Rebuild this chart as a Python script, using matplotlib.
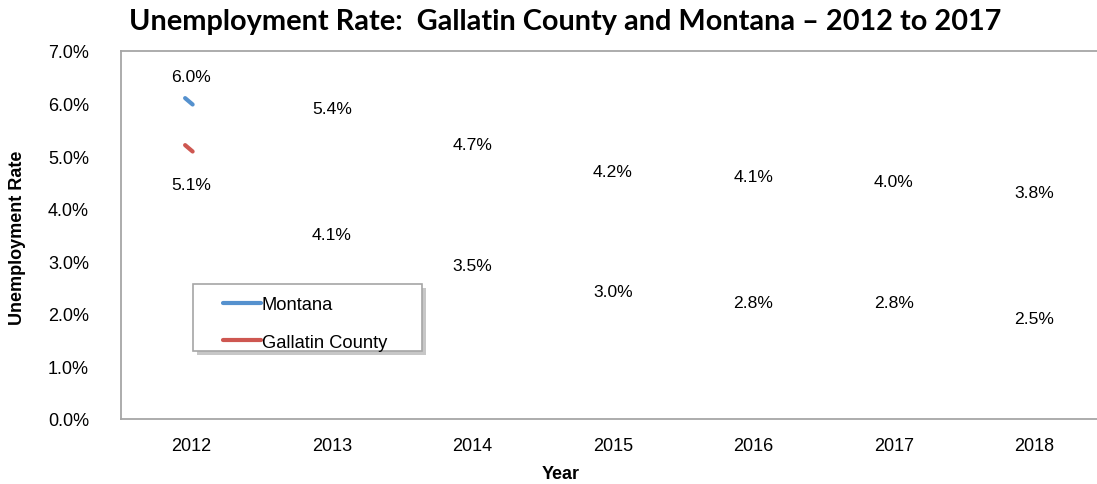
import matplotlib
matplotlib.use("Agg")
import matplotlib.pyplot as plt
import matplotlib.patheffects as pe
from matplotlib.path import Path
from matplotlib.markers import MarkerStyle
from matplotlib.patches import Rectangle

years = ["2012", "2013", "2014", "2015", "2016", "2017", "2018"]
montana = [6.0, 5.4, 4.7, 4.2, 4.1, 4.0, 3.8]
gallatin = [5.1, 4.1, 3.5, 3.0, 2.8, 2.8, 2.5]
y_ticks = [0, 1, 2, 3, 4, 5, 6, 7]

blue = "#5591CE"
red = "#CE5751"
frame_gray = "#A6A6A6"
body_font = "Liberation Sans"

W, H = 1097, 485
fig = plt.figure(figsize=(W / 100, H / 100), dpi=100)
fig.patch.set_facecolor("white")

# plot area runs a little past the right edge of the canvas
left, right, top, bottom = 121, 1104.5, 52, 420
ax = fig.add_axes([left / W, 1 - bottom / H, (right - left) / W, (bottom - top) / H])

x = list(range(len(years)))
ax.set_xlim(-0.5, len(years) - 0.5)
ax.set_ylim(0, 7)

# short stroke marking the first point of each series
stroke = MarkerStyle(Path([(-0.85, 0.85), (0.15, 0.0)], [Path.MOVETO, Path.LINETO]),
                     capstyle="round")
for vals, col in [(montana, blue), (gallatin, red)]:
    ax.plot(x, vals, linestyle="none", marker=stroke, markevery=[0],
            markersize=9.2, markeredgewidth=3.0, markeredgecolor=col,
            markerfacecolor="none")

label_font = dict(family=body_font, size=12.6, color="black")
for xi, v in zip(x, montana):
    ax.annotate(f"{v:.1f}%", (xi, v), xytext=(0, 19.5), textcoords="offset points",
                ha="center", va="center", **label_font)
for i, (xi, v) in enumerate(zip(x, gallatin)):
    off = -24 if i == 0 else -22
    ax.annotate(f"{v:.1f}%", (xi, v), xytext=(0, off), textcoords="offset points",
                ha="center", va="center", **label_font)

ax.set_xticks(x)
ax.set_xticklabels(years, fontdict=dict(family=body_font, size=13))
ax.set_yticks(y_ticks)
ax.set_yticklabels([f"{t:.1f}%" for t in y_ticks], fontdict=dict(family=body_font, size=13))
ax.tick_params(axis="both", length=0)
ax.tick_params(axis="x", pad=13)
ax.tick_params(axis="y", pad=23)

for side in ["top", "bottom", "left"]:
    ax.spines[side].set_color(frame_gray)
    ax.spines[side].set_linewidth(1.3)
ax.spines["right"].set_visible(False)

fig.text(18 / W, 1 - 238 / H, "Unemployment Rate", rotation=90, ha="center", va="center",
         family=body_font, weight="bold", size=13)
fig.text(561 / W, 1 - 475 / H, "Year", ha="center", va="center",
         family=body_font, weight="bold", size=13)
fig.text(565 / W, 1 - 22 / H, "Unemployment Rate:  Gallatin County and Montana \u2013 2012 to 2017",
         ha="center", va="center", family="Lato", weight="bold", size=20.8)

# legend box
lx0, ly0, lx1, ly1 = 193, 285, 422, 352
box = Rectangle((lx0 / W, 1 - ly1 / H), (lx1 - lx0) / W, (ly1 - ly0) / H,
                transform=fig.transFigure, facecolor="white", edgecolor=frame_gray,
                linewidth=1.2, zorder=5)
box.set_path_effects([pe.SimplePatchShadow(offset=(3, -3), shadow_rgbFace="#909090", alpha=0.5),
                      pe.Normal()])
fig.add_artist(box)

handles = [plt.Line2D([], [], color=blue, lw=3.0, solid_capstyle="round"),
           plt.Line2D([], [], color=red, lw=3.0, solid_capstyle="round")]
leg = fig.legend(handles, ["Montana", "Gallatin County"], loc="upper left",
                 bbox_to_anchor=(223 / W, 1 - 297 / H), frameon=False,
                 prop=dict(family=body_font, size=13.2),
                 handlelength=2.05, handletextpad=0.05, labelspacing=1.12,
                 borderpad=0, borderaxespad=0)
leg.set_zorder(6)

fig.savefig("out.png", dpi=100)
